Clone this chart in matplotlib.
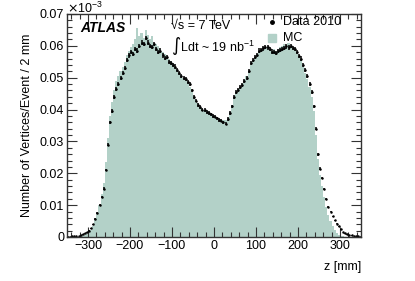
import numpy as np
from matplotlib import pyplot as plt
from matplotlib.ticker import MultipleLocator, FuncFormatter

plt.rcParams['font.family'] = ['Liberation Sans', 'DejaVu Sans']

# bin edges of 5 mm from -350 to 350 mm
edges = np.arange(-350, 351, 5)
centers = 0.5 * (edges[:-1] + edges[1:])

# vertices per event / 2 mm (x 1e-3)
data = [
    0.0001, 0.0001, 0.0002, 0.0002, 0.0003, 0.0004, 0.0006, 0.0008, 0.0011, 0.0015,
    0.0020, 0.0028, 0.0040, 0.0056, 0.0075, 0.0100, 0.0125, 0.0152, 0.0210, 0.0290,
    0.0360, 0.0395, 0.0440, 0.0465, 0.0480, 0.0500, 0.0515, 0.0530, 0.0555, 0.0570,
    0.0580, 0.0575, 0.0590, 0.0585, 0.0600, 0.0610, 0.0605, 0.0625, 0.0610, 0.0600,
    0.0597, 0.0605, 0.0590, 0.0580, 0.0585, 0.0570, 0.0562, 0.0565, 0.0550, 0.0546,
    0.0540, 0.0535, 0.0524, 0.0515, 0.0505, 0.0500, 0.0495, 0.0488, 0.0480, 0.0460,
    0.0440, 0.0428, 0.0415, 0.0408, 0.0400, 0.0398, 0.0392, 0.0390, 0.0385, 0.0380,
    0.0378, 0.0372, 0.0367, 0.0365, 0.0360, 0.0356, 0.0370, 0.0390, 0.0410, 0.0440,
    0.0455, 0.0462, 0.0470, 0.0478, 0.0490, 0.0500, 0.0520, 0.0545, 0.0556, 0.0565,
    0.0572, 0.0585, 0.0587, 0.0592, 0.0597, 0.0595, 0.0590, 0.0582, 0.0580, 0.0578,
    0.0583, 0.0588, 0.0590, 0.0593, 0.0598, 0.0595, 0.0600, 0.0593, 0.0590, 0.0580,
    0.0568, 0.0560, 0.0540, 0.0524, 0.0505, 0.0480, 0.0455, 0.0410, 0.0340, 0.0260,
    0.0215, 0.0185, 0.0150, 0.0120, 0.0095, 0.0080, 0.0065, 0.0052, 0.0042, 0.0033,
    0.0024, 0.0016, 0.0011, 0.0008, 0.0006, 0.0005, 0.0004, 0.0003, 0.0002, 0.0001,
]

mc = [
    0, 0, 0, 0, 0, 0.0001, 0.0002, 0.0003, 0.0005, 0.0008,
    0.0014, 0.0022, 0.0035, 0.0052, 0.0075, 0.0102, 0.0135, 0.0170, 0.0235, 0.0310,
    0.0380, 0.0425, 0.0460, 0.0490, 0.0505, 0.0520, 0.0535, 0.0550, 0.0570, 0.0585,
    0.0595, 0.0605, 0.0620, 0.0655, 0.0630, 0.0640, 0.0625, 0.0650, 0.0635, 0.0620,
    0.0630, 0.0610, 0.0605, 0.0600, 0.0590, 0.0580, 0.0575, 0.0565, 0.0560, 0.0552,
    0.0545, 0.0535, 0.0525, 0.0515, 0.0510, 0.0500, 0.0492, 0.0485, 0.0470, 0.0455,
    0.0442, 0.0430, 0.0420, 0.0410, 0.0405, 0.0400, 0.0395, 0.0392, 0.0388, 0.0383,
    0.0380, 0.0378, 0.0372, 0.0370, 0.0368, 0.0366, 0.0375, 0.0392, 0.0415, 0.0440,
    0.0455, 0.0465, 0.0472, 0.0480, 0.0492, 0.0505, 0.0522, 0.0540, 0.0555, 0.0565,
    0.0575, 0.0585, 0.0590, 0.0595, 0.0600, 0.0595, 0.0590, 0.0585, 0.0590, 0.0585,
    0.0590, 0.0595, 0.0600, 0.0605, 0.0600, 0.0610, 0.0600, 0.0595, 0.0590, 0.0580,
    0.0565, 0.0555, 0.0535, 0.0515, 0.0495, 0.0470, 0.0440, 0.0395, 0.0320, 0.0245,
    0.0195, 0.0160, 0.0125, 0.0095, 0.0070, 0.0050, 0.0035, 0.0022, 0.0013, 0.0007,
    0.0004, 0.0002, 0.0001, 0, 0, 0, 0, 0, 0, 0,
]

data = np.array(data)
mc = np.array(mc)
# statistical error on the data points
err = np.sqrt(data) * 0.0028

mc_color = '#b3d1c8'
frame = '#333333'
fs = 9

fig = plt.figure(figsize=(4.15, 2.81), dpi=100)
ax = fig.add_axes([0.1614, 0.1566, 0.7084, 0.7936])

ax.stairs(mc, edges, fill=True, color=mc_color, lw=0)
ax.errorbar(centers, data, yerr=err, fmt='o', ms=1.8, color='black',
            elinewidth=1.1, capsize=0, mew=0)

ax.set_xlim(-350, 350)
ax.set_ylim(0, 0.07)
ax.xaxis.set_major_locator(MultipleLocator(100))
ax.xaxis.set_minor_locator(MultipleLocator(20))
ax.yaxis.set_major_locator(MultipleLocator(0.01))
ax.yaxis.set_minor_locator(MultipleLocator(0.002))
ax.yaxis.set_major_formatter(FuncFormatter(lambda v, p: '0' if abs(v) < 1e-9 else '%.2f' % v))
ax.tick_params(which='both', direction='in', top=True, right=True, colors=frame,
               labelcolor='black', labelsize=fs, pad=2)
ax.tick_params(which='major', length=7, width=0.8)
ax.tick_params(which='minor', length=3.5, width=0.8)
for s in ax.spines.values():
    s.set_color(frame)
    s.set_linewidth(1.0)

ax.text(0.0, 0.99, r'$\times$10$^{\mathregular{-3}}$', transform=ax.transAxes,
        fontsize=fs, ha='left', va='bottom')
ax.set_ylabel('Number of Vertices/Event / 2 mm', fontsize=fs, labelpad=5)
fig.text(361 / 415, 1 - 267 / 281, 'z [mm]', fontsize=fs, ha='right', va='center')

ax.text(0.044, 0.937, 'ATLAS', transform=ax.transAxes, fontsize=10,
        fontweight='bold', fontstyle='italic', va='center')
ax.text(0.355, 0.948, '\u221as = 7 TeV', transform=ax.transAxes, fontsize=fs,
        va='center')
ax.text(0.355, 0.858, '\u222bLdt ~ 19 nb$^{\\mathregular{-1}}$', transform=ax.transAxes,
        fontsize=fs, va='center')

ax.plot([0.697], [0.962], 'o', ms=2.5, color='black', transform=ax.transAxes)
ax.text(0.735, 0.962, 'Data 2010', transform=ax.transAxes, fontsize=fs, va='center')
ax.plot([0.697], [0.892], 's', ms=5.5, color=mc_color, transform=ax.transAxes)
ax.text(0.735, 0.892, 'MC', transform=ax.transAxes, fontsize=fs, va='center')

fig.savefig('out.png', dpi=100)
